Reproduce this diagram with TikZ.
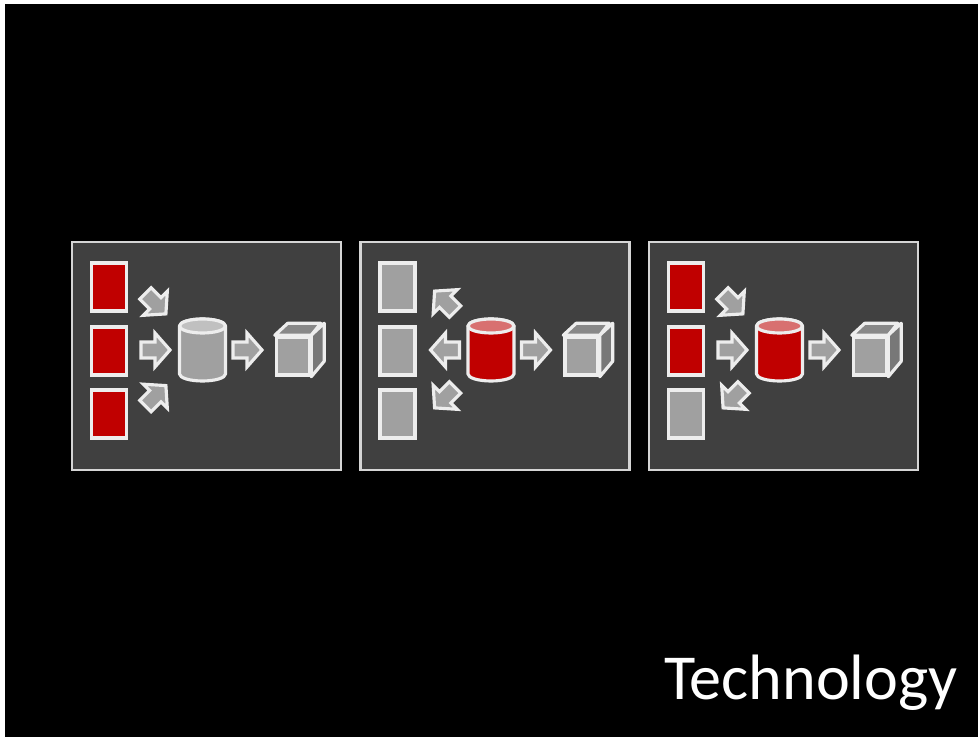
\documentclass[tikz,border=0pt]{standalone}
\usepackage{fontspec}
\setmainfont{Carlito}
\definecolor{panelgray}{HTML}{404040}
\definecolor{edgewhite}{HTML}{EDEDED}
\definecolor{blockred}{HTML}{C00000}
\definecolor{blockgray}{HTML}{A0A0A0}
\definecolor{topred}{HTML}{D87070}
\definecolor{topgray}{HTML}{C0C0C0}
\tikzset{
  panel/.style={draw=edgewhite!90!black,fill=panelgray,line width=1.2pt,minimum width=5.38cm,minimum height=4.56cm,inner sep=0pt},
  doc/.style={draw=edgewhite,line width=2pt,fill=#1,minimum width=.7cm,minimum height=.96cm,inner sep=0pt},
  face/.style={draw=edgewhite,line width=1.8pt,fill=#1,line join=round},
  pics/flow/.style={code={
    \draw [face=blockgray,line join=miter] (-15,-8) -- (-1,-8) -- (-1,-17) -- (14,0) -- (-1,17) -- (-1,8) -- (-15,8) -- cycle;
  }},
  pics/store/.style 2 args={code={
    \draw [face=#1] (-23,24) -- (-23,-24) arc[start angle=180,end angle=360,x radius=23,y radius=7] -- (23,24) arc[start angle=0,end angle=180,x radius=23,y radius=7] -- cycle;
    \draw [face=#2] (0,24) ellipse[x radius=23,y radius=7];
  }}
}
\begin{document}
\begin{tikzpicture}[x=.02cm,y=.02cm]
  \useasboundingbox (0,0) rectangle (978,737);
  \fill[white] (0,0) rectangle (978,737);
  \fill[black] (5,0) rectangle (978,733);

  \foreach \n/\dx/\rda/\rdb/\rdc/\rota/\rotb/\rotc/\ya/\yc/\cyl/\cyltop in {
    one/0/blockred/blockred/blockred/-45/0/45/433/341.5/blockgray/topgray,
    two/288.5/blockgray/blockgray/blockgray/135/180/225/436/339/blockred/topred,
    three/577/blockred/blockred/blockgray/-45/0/225/433/339/blockred/topred} {
    \begin{scope}[xshift=\dx*.02cm]
      \node [panel] (box\n) at (206.5,381) {};

      \node [doc=\rda] (da\n) at (109,450) {};
      \node [doc=\rdb] (db\n) at (109,386) {};
      \node [doc=\rdc] (dc\n) at (109,323) {};

      \pic [rotate=\rota] (fa\n) at (156,\ya) {flow};
      \pic [rotate=\rotb] (fb\n) at (156,387) {flow};
      \pic [rotate=\rotc] (fc\n) at (156,\yc) {flow};

      \pic (st\n) at (202.5,387) {store={\cyl}{\cyltop}};
      \pic (fd\n) at (248,387) {flow};

      % cube: front face, then the two faces behind it
      \node [doc=blockgray,minimum width=.66cm,minimum height=.76cm] (cu\n) at (293,381) {};
      \draw [face=blockgray!85!black] (cu\n.north west) -- ++(13,12) -- ++(33,0) -- (cu\n.north east) -- cycle;
      \draw [face=blockgray!75!black] (cu\n.north east) -- ++(13,12) -- ++(0,-38) -- (cu\n.south east) -- cycle;
    \end{scope}
  }

  \node [anchor=base east,inner sep=0pt,text=white] (title) at (958,37) {\fontsize{36.5}{40}\selectfont Technology};
\end{tikzpicture}
\end{document}
